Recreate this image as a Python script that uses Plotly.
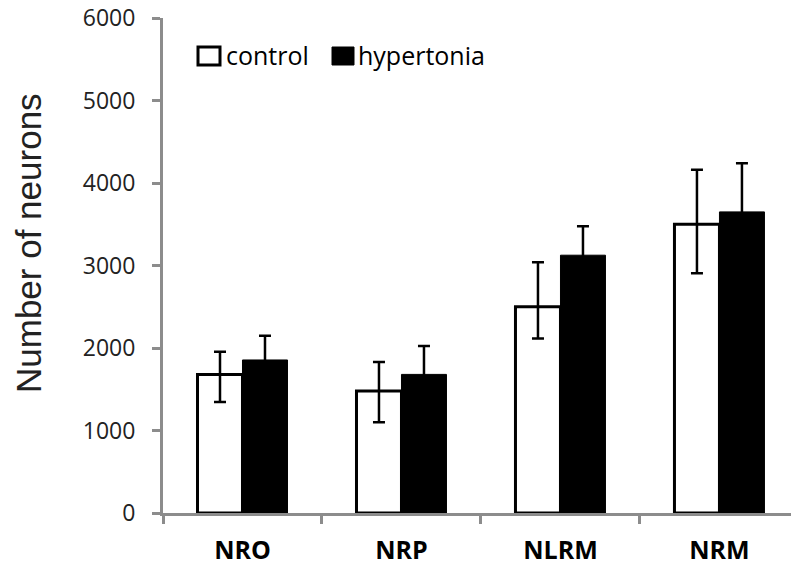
import plotly.graph_objects as go

categories = ["NRO", "NRP", "NLRM", "NRM"]
control = [1680, 1480, 2500, 3500]
control_err_plus = [275, 350, 540, 660]
control_err_minus = [335, 380, 385, 595]
hyper = [1855, 1680, 3125, 3650]
hyper_err = [295, 345, 350, 590]
y_ticks = [0, 1000, 2000, 3000, 4000, 5000, 6000]

W, H = 791, 570
L, R, T, B = 163, 0, 18, 57
pw, ph = W - L - R, H - T - B

def px(x):
    return (x - L) / pw

def py(y):
    return (H - B - y) / ph

fig = go.Figure()
fig.add_trace(go.Bar(
    x=categories, y=control, name="control",
    marker=dict(color="white", line=dict(color="black", width=3)),
    error_y=dict(type="data", symmetric=False, array=control_err_plus,
                 arrayminus=control_err_minus, color="black", thickness=2.5, width=6),
))
fig.add_trace(go.Bar(
    x=categories, y=hyper, name="hypertonia",
    marker=dict(color="black", line=dict(color="black", width=1)),
    error_y=dict(type="data", array=hyper_err, color="black", thickness=2.5, width=6),
))

axis_gray = "#8c8c8c"
fig.update_layout(
    width=W, height=H,
    margin=dict(l=L, r=R, t=T, b=B, pad=0),
    paper_bgcolor="white", plot_bgcolor="white",
    barmode="group", bargap=0.434, bargroupgap=0,
    showlegend=False,
    font=dict(family="Open Sans", color="#222222"),
    xaxis=dict(
        range=[-0.5, 3.45], showline=True, linecolor=axis_gray, linewidth=3,
        ticks="outside", tickson="boundaries", ticklen=8, tickwidth=3, tickcolor=axis_gray,
        tickfont=dict(family="Open Sans", size=25, color="black", weight="bold"),
        showgrid=False, zeroline=False, ticklabelstandoff=13,
    ),
    yaxis=dict(
        range=[0, 6000], tickvals=y_ticks, showline=True, linecolor=axis_gray, linewidth=3,
        ticks="outside", ticklen=8, tickwidth=3, tickcolor=axis_gray,
        tickfont=dict(family="Open Sans", size=23, color="#222222"),
        showgrid=False, zeroline=False, ticklabelstandoff=12,
    ),
)

fig.add_annotation(
    text="Number of neurons", textangle=-90, xref="paper", yref="paper",
    x=px(28), y=py(243), xanchor="center", yanchor="middle", showarrow=False,
    font=dict(family="Liberation Sans", size=35, color="#222222"),
)

# legend
fig.add_shape(type="rect", xref="paper", yref="paper",
              x0=px(198), x1=px(220), y0=py(65), y1=py(47),
              line=dict(color="black", width=3), fillcolor="white")
fig.add_shape(type="rect", xref="paper", yref="paper",
              x0=px(332), x1=px(354), y0=py(65), y1=py(47),
              line=dict(color="black", width=1), fillcolor="black")
fig.add_annotation(text="control", xref="paper", yref="paper", x=px(224), y=py(55),
                   xanchor="left", yanchor="middle", showarrow=False,
                   font=dict(family="Open Sans", size=25, color="black"))
fig.add_annotation(text="hypertonia", xref="paper", yref="paper", x=px(356), y=py(55),
                   xanchor="left", yanchor="middle", showarrow=False,
                   font=dict(family="Open Sans", size=25, color="black"))

fig.write_html("out.html", config={"displayModeBar": False},
               post_script="document.body.style.margin='0px';document.body.style.overflow='hidden';")
